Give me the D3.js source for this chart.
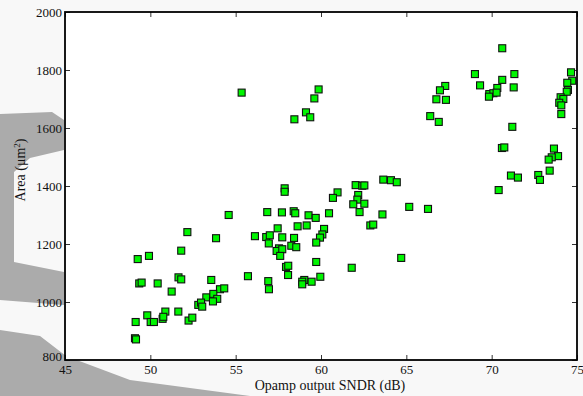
<!DOCTYPE html>
<html>
<head>
<meta charset="utf-8">
<script src="https://cdn.jsdelivr.net/npm/d3@7"></script>
<style>
  html, body { margin: 0; padding: 0; background: #f8f8f8; }
  svg { display: block; }
  text { font-family: "Liberation Serif", "Times New Roman", serif; fill: #111; }
</style>
</head>
<body>
<svg id="chart" width="583" height="396"></svg>
<script>
// Data
const sndr = [
  55.35, 59.86, 59.61, 59.12, 59.37, 58.44, 67.28, 66.97, 66.76, 67.32,
  66.40, 66.90, 63.65, 64.10, 64.44, 70.62, 69.02, 71.33, 69.32, 70.62,
  70.33, 71.29, 69.86, 70.10, 70.29, 69.84, 71.21, 70.60, 70.74, 74.65,
  74.72, 74.43, 74.47, 74.40, 74.04, 74.20, 73.96, 74.08, 74.08, 73.65,
  73.89, 73.52, 73.34, 73.40, 71.13, 71.54, 72.73, 72.83, 70.41, 65.17,
  66.27, 64.70, 57.87, 57.87, 62.03, 62.42, 62.54, 60.97, 60.70, 62.18,
  62.13, 61.89, 62.54, 62.26, 63.60, 62.89, 63.06, 56.85, 57.71, 58.40,
  58.49, 59.27, 59.69, 60.47, 56.13, 56.79, 57.00, 57.46, 56.94, 57.73,
  58.42, 58.63, 59.16, 58.26, 58.55, 57.54, 57.40, 57.73, 57.61, 60.18,
  60.08, 59.94, 59.72, 59.72, 57.95, 58.08, 58.07, 61.80, 59.96, 59.02,
  58.90, 58.90, 59.45, 56.91, 56.95, 54.59, 52.17, 53.85, 51.81, 49.26,
  49.92, 51.65, 51.81, 53.57, 55.72, 49.35, 49.49, 50.43, 51.25, 52.24,
  52.46, 54.08, 54.33, 53.28, 53.69, 53.92, 53.67, 52.81, 52.97, 53.04,
  50.88, 51.64, 49.82, 50.72, 50.76, 50.02, 50.21, 49.14, 49.10, 49.16
];
const area = [
  1722, 1733, 1702, 1654, 1637, 1630, 1745, 1730, 1699, 1697,
  1641, 1621, 1422, 1420, 1413, 1875, 1786, 1786, 1747, 1766,
  1738, 1740, 1717, 1720, 1722, 1708, 1604, 1531, 1533, 1792,
  1763, 1756, 1731, 1725, 1706, 1700, 1687, 1678, 1648, 1529,
  1503, 1499, 1491, 1453, 1436, 1429, 1438, 1421, 1386, 1328,
  1321, 1152, 1392, 1380, 1403, 1401, 1402, 1378, 1359, 1369,
  1353, 1337, 1339, 1310, 1302, 1264, 1267, 1310, 1309, 1313,
  1306, 1299, 1290, 1306, 1227, 1224, 1230, 1254, 1202, 1223,
  1221, 1261, 1264, 1194, 1189, 1185, 1176, 1182, 1159, 1252,
  1233, 1222, 1205, 1138, 1121, 1125, 1093, 1118, 1087, 1076,
  1070, 1061, 1070, 1072, 1044, 1300, 1241, 1220, 1177, 1148,
  1159, 1085, 1078, 1076, 1089, 1064, 1067, 1064, 1036, 936,
  946, 1044, 1047, 1016, 1028, 1011, 1002, 990, 998, 984,
  967, 967, 954, 942, 949, 931, 931, 931, 875, 871
];
const xTicks = [45, 50, 55, 60, 65, 70, 75];
const yTicks = [800, 1000, 1200, 1400, 1600, 1800, 2000];
const xLabel = "Opamp output SNDR (dB)";
const yLabelMain = "Area (μm";
const yLabelSup = "2";

const svg = d3.select("#chart");
const W = 583, H = 396;
const m = { left: 65, top: 12, right: 6, bottom: 36 };
const pw = W - m.left - m.right, ph = H - m.top - m.bottom;

// faint background watermark (outside plot area)
const wm = svg.append("g").attr("fill", "#ababab").attr("stroke", "none");
wm.append("path").attr("d", "M0,114 L52,112 L64,120 L64,150 L30,158 L14,172 L14,262 L64,272 L64,305 L0,300 Z");
wm.append("path").attr("d", "M0,330 L40,336 L66,356 L130,380 L250,396 L0,396 Z");

const x = d3.scaleLinear().domain([45, 75]).range([m.left, m.left + pw]);
const y = d3.scaleLinear().domain([800, 2000]).range([m.top + ph, m.top]);

// plot background
svg.append("rect")
  .attr("x", m.left).attr("y", m.top).attr("width", pw).attr("height", ph)
  .attr("fill", "#ffffff");

// axes with inward ticks
const fontSize = 13;
const gx = svg.append("g").attr("transform", `translate(0,${m.top + ph})`)
  .call(d3.axisBottom(x).tickValues(xTicks).tickSize(-5).tickPadding(5).tickFormat(d3.format("d")));
const gy = svg.append("g").attr("transform", `translate(${m.left},0)`)
  .call(d3.axisLeft(y).tickValues(yTicks).tickSize(-5).tickPadding(3).tickFormat(d3.format("d")));
const gxt = svg.append("g").attr("transform", `translate(0,${m.top})`)
  .call(d3.axisTop(x).tickValues(xTicks).tickSize(-5).tickFormat(""));
const gyr = svg.append("g").attr("transform", `translate(${m.left + pw},0)`)
  .call(d3.axisRight(y).tickValues(yTicks).tickSize(-5).tickFormat(""));

[gx, gy, gxt, gyr].forEach(g => {
  g.select(".domain").remove();
  g.selectAll(".tick line").attr("stroke", "#333").attr("stroke-width", 1);
  g.selectAll("text").attr("font-size", fontSize).attr("font-family", "Liberation Serif, serif").attr("fill", "#111");
});
gy.selectAll("text").attr("dy", "0.32em");
gy.selectAll(".tick").filter(d => d === 800).select("text").attr("dy", "0.05em");

// points
svg.append("g").selectAll("rect")
  .data(sndr.map((d, i) => [d, area[i]]))
  .join("rect")
  .attr("x", d => x(d[0]) - 3.5)
  .attr("y", d => y(d[1]) - 3.5)
  .attr("width", 7).attr("height", 7)
  .attr("fill", "#00f500")
  .attr("stroke", "#111")
  .attr("stroke-width", 1.1);

// frame
svg.append("rect")
  .attr("x", m.left).attr("y", m.top).attr("width", pw).attr("height", ph)
  .attr("fill", "none").attr("stroke", "#000").attr("stroke-width", 1.8);

// axis labels
svg.append("text")
  .attr("x", 330).attr("y", 390)
  .attr("text-anchor", "middle").attr("font-size", 14)
  .text(xLabel);

const yl = svg.append("text")
  .attr("transform", "translate(25,170) rotate(-90)")
  .attr("text-anchor", "middle").attr("font-size", 14);
yl.append("tspan").text(yLabelMain);
yl.append("tspan").attr("dy", -5).attr("font-size", 9).text(yLabelSup);
yl.append("tspan").attr("dy", 5).text(")");
</script>
</body>
</html>
